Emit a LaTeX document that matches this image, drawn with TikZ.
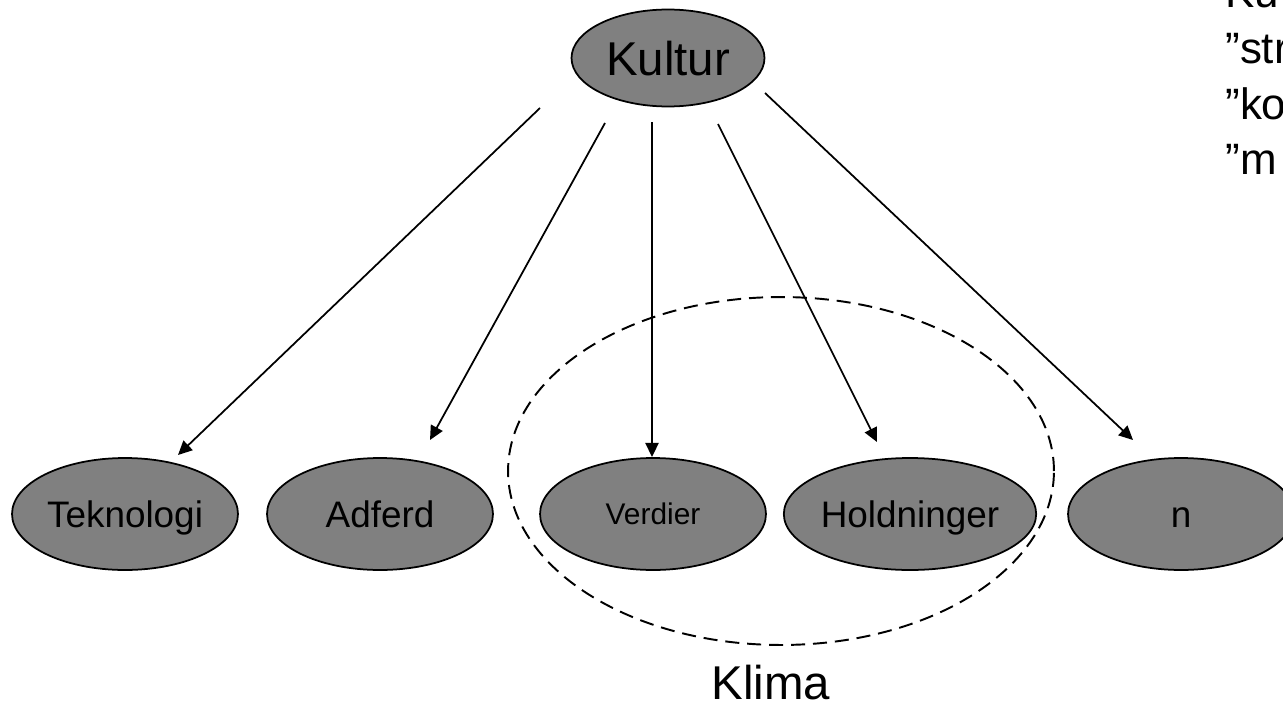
\documentclass[tikz,border=0pt]{standalone}
\usepackage{fontspec}
\setmainfont{Liberation Sans}
\usetikzlibrary{shapes.geometric,arrows.meta}
\begin{document}
\begin{tikzpicture}[x=0.02cm,y=-0.02cm,line join=round,>={Triangle[length=8pt,width=7.5pt]},
	elip/.style={ellipse,draw=black,line width=1pt,fill=black!50,inner sep=0pt,text height=15pt,text depth=0pt,minimum width=4.52cm,minimum height=2.24cm,font=\fontsize{21}{25}\selectfont},
	pil/.style={->,line width=1pt}]
	\useasboundingbox (0,0) rectangle (1283,706);
	\clip (0,0) rectangle (1283,706);
	% ringen rundt klima
	\node[ellipse,draw,dash pattern=on 8pt off 4.5pt,line width=1.1pt,minimum width=10.92cm,minimum height=6.96cm] (klimaring) at (781,471) {};
	\node[font=\fontsize{27}{32}\selectfont] (klima) at (771,683) {Klima};
	\node[elip,minimum width=3.86cm,minimum height=1.94cm,text height=19.5pt,font=\fontsize{27}{32}\selectfont] (kultur) at (668,58) {Kultur};
	\node[elip] (tek) at (125,514) {Teknologi};
	\node[elip] (adf) at (380,514) {Adferd};
	\node[elip,text height=12.3pt,font=\fontsize{17}{20}\selectfont] (verd) at (653,514) {Verdier};
	\node[elip] (hold) at (910,514) {Holdninger};
	\node[elip] (n) at (1181,514) {n};
	% piler fra kultur
	\coordinate (s1) at (540,108); \coordinate (e1) at (178,455);
	\coordinate (s2) at (605,123); \coordinate (e2) at (430,440);
	\coordinate (s3) at (652,122); \coordinate (e3) at (652,457);
	\coordinate (s4) at (718,124); \coordinate (e4) at (877,442);
	\coordinate (s5) at (765,93);  \coordinate (e5) at (1133,440);
	\foreach \i in {1,...,5}
	\draw[pil] (s\i)--(e\i);
	% tekst oppe til hoyre
	\foreach \t/\y [count=\k] in {Ku/8,”str/64,”ko/119,”m/174}
	\node[anchor=base west,inner sep=0pt,font=\fontsize{25}{30}\selectfont] (txt\k) at (1225,\y) {\t};
\end{tikzpicture}
\end{document}
